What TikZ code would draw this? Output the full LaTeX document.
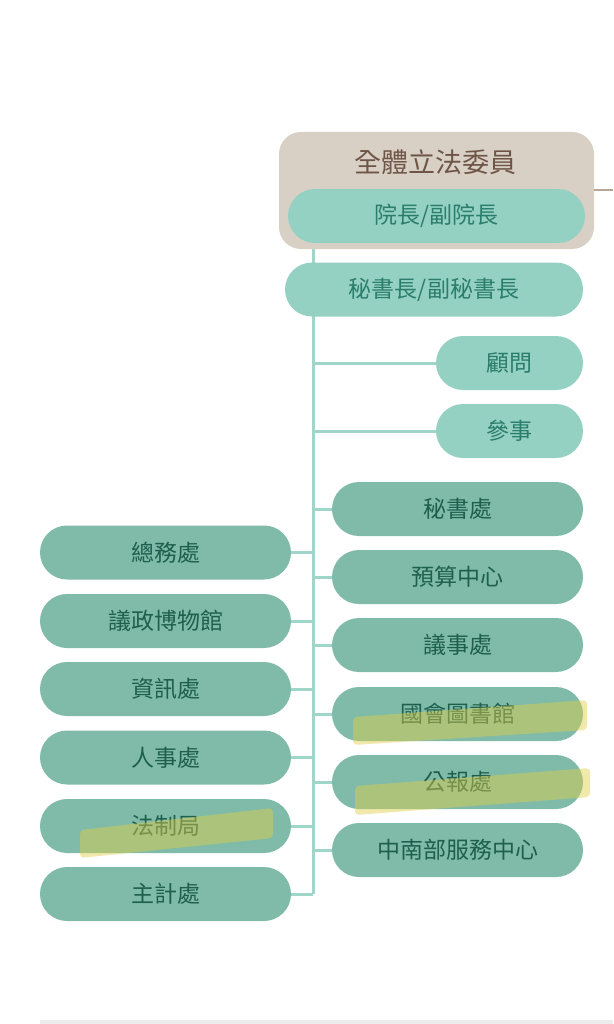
\documentclass[tikz,border=0pt]{standalone}
\usepackage{fontspec}
\newfontfamily\cjk{Noto Sans CJK TC}
\usetikzlibrary{backgrounds}
\definecolor{beige}{HTML}{D9D0C5}
\definecolor{lteal}{HTML}{94D1C2}
\definecolor{dteal}{HTML}{7FBBA8}
\definecolor{ltext}{HTML}{2B7D6C}
\definecolor{dtext}{HTML}{1F5F4E}
\definecolor{brownt}{HTML}{6E5548}
\definecolor{vline}{HTML}{A0D6CA}
\definecolor{hline}{HTML}{B8A596}
\definecolor{hilite}{RGB}{225,205,70}
\definecolor{footline}{HTML}{ECECEC}
\begin{document}
\begin{tikzpicture}[x=1pt,y=-1pt,
  pill/.style={rectangle, rounded corners=27pt, inner sep=0pt, minimum height=54pt,
               font=\cjk\fontsize{23}{26}\selectfont},
  lightpill/.style={pill, fill=lteal, text=ltext},
  darkpill/.style={pill, fill=dteal, text=dtext, minimum width=251pt},
  conn/.style={draw=vline, line width=3pt},
  hilitestroke/.style={fill=hilite, opacity=0.45, rounded corners=4pt}
]
\begin{pgfonlayer}{background}
  \fill[white] (0,0) rectangle (613,1024);
\end{pgfonlayer}
\useasboundingbox (0,0) rectangle (613,1024);

% top box
\node[rectangle, rounded corners=22pt, fill=beige, minimum width=315pt, minimum height=117pt, inner sep=0pt] (all) at (436.5,190.5) {};
\node[text=brownt, font=\cjk\fontsize{27}{30}\selectfont, inner sep=0pt] (allt) at (435,162) {全體立法委員};
\node[lightpill, minimum width=297pt] (pres) at (436.5,216) {院長/副院長};
\coordinate (rt) at (613,190.5);
\draw[hline, line width=2pt] (all.east) -- (rt);

% secretary general and staff
\node[lightpill, minimum width=298pt] (sg) at (434,289.5) {秘書長/副秘書長};
\node[lightpill, minimum width=147pt] (gw) at (509.5,363) {顧問};
\node[lightpill, minimum width=147pt] (cs) at (509.5,431) {參事};

% right column
\node[darkpill] (r1) at (457.5,509) {秘書處};
\node[darkpill] (r2) at (457.5,577) {預算中心};
\node[darkpill] (r3) at (457.5,645) {議事處};
\node[darkpill] (r4) at (457.5,714) {國會圖書館};
\node[darkpill] (r5) at (457.5,782) {公報處};
\node[darkpill] (r6) at (457.5,850) {中南部服務中心};

% left column
\node[darkpill] (l1) at (165.5,552.5) {總務處};
\node[darkpill] (l2) at (165.5,621) {議政博物館};
\node[darkpill] (l3) at (165.5,689) {資訊處};
\node[darkpill] (l4) at (165.5,757.5) {人事處};
\node[darkpill] (l5) at (165.5,826) {法制局};
\node[darkpill] (l6) at (165.5,894) {主計處};

\coordinate (vtop) at (313,249);
\coordinate (vbot) at (313,894);

\begin{pgfonlayer}{background}
  \draw[conn] (vtop) -- (vbot);
  \foreach \n in {gw,cs,r1,r2,r3,r4,r5,r6}
    \draw[conn] (\n.west) -- (\n.west -| vtop);
  \foreach \n in {l1,l2,l3,l4,l5,l6}
    \draw[conn] (\n.east) -- (\n.east -| vtop);
\end{pgfonlayer}

% hand-drawn highlights
\fill[hilitestroke] (353,717) -- (587,700) -- (587,730) -- (353,745) -- cycle;
\fill[hilitestroke] (355,786) -- (590,768) -- (590,797) -- (355,815) -- cycle;
\fill[hilitestroke] (80,830) -- (273,808) -- (273,838) -- (80,858) -- cycle;

% footer line
\fill[footline] (40,1020) rectangle (613,1024);
\end{tikzpicture}
\end{document}
